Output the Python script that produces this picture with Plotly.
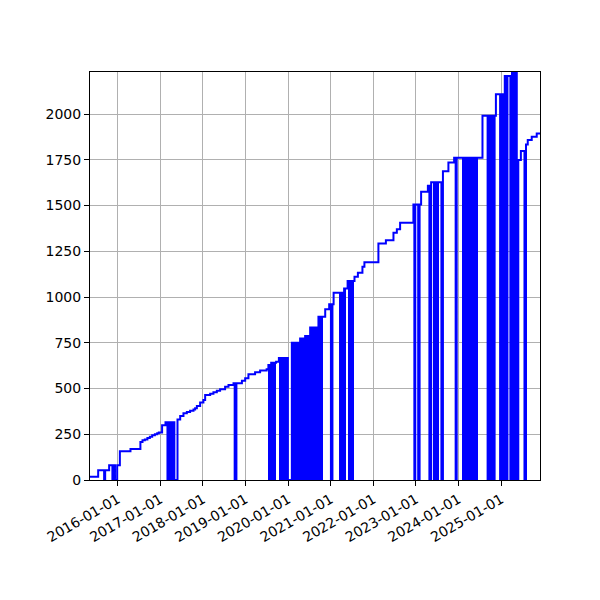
import pandas as pd
import plotly.graph_objects as go

# Step series: date from which the value holds, and the value
step_dates = [
    "2015-05-01", "2015-07-18", "2015-09-07", "2015-09-16", "2015-10-20",
    "2015-11-17", "2015-11-26", "2015-12-09", "2015-12-28", "2016-01-20",
    "2016-04-20", "2016-07-14", "2016-08-01", "2016-08-21", "2016-09-12",
    "2016-10-03", "2016-10-23", "2016-11-15", "2016-12-05", "2016-12-19",
    "2017-01-16", "2017-02-14", "2017-03-03", "2017-03-13", "2017-03-23",
    "2017-03-30", "2017-04-12", "2017-04-21", "2017-05-01", "2017-05-28",
    "2017-06-20", "2017-07-18", "2017-08-16", "2017-09-13", "2017-10-12",
    "2017-10-26", "2017-11-10", "2017-12-08", "2018-01-05", "2018-01-20",
    "2018-03-04", "2018-04-01", "2018-04-30", "2018-05-28", "2018-07-10",
    "2018-08-08", "2018-09-20", "2018-09-30", "2018-10-15", "2018-12-01",
    "2018-12-29", "2019-01-26", "2019-03-24", "2019-05-06", "2019-07-01",
    "2019-07-16", "2019-08-09", "2019-09-20", "2019-10-14", "2019-12-30",
    "2020-02-02", "2020-04-13", "2020-05-26", "2020-07-08", "2020-09-17",
    "2020-11-14", "2020-12-18", "2021-01-02", "2021-01-15", "2021-01-25",
    "2021-04-25", "2021-05-25", "2021-07-23", "2021-08-21", "2021-09-29",
    "2021-10-16", "2022-02-13", "2022-04-18", "2022-06-22", "2022-07-21",
    "2022-08-18", "2022-12-10", "2022-12-18", "2022-12-26", "2023-01-20",
    "2023-02-01", "2023-02-14", "2023-04-13", "2023-04-26", "2023-05-11",
    "2023-08-07", "2023-08-20", "2023-10-06", "2023-11-24", "2023-12-07",
    "2023-12-16", "2024-07-24", "2024-09-06", "2024-09-17", "2024-10-02",
    "2024-10-11", "2024-10-22", "2024-11-05", "2024-11-16", "2024-12-22",
    "2025-01-02", "2025-01-19", "2025-01-31", "2025-02-12", "2025-02-23",
    "2025-03-20", "2025-04-03", "2025-04-19", "2025-05-01", "2025-05-14",
    "2025-05-27", "2025-06-18", "2025-07-19", "2025-08-01", "2025-08-16",
    "2025-09-19", "2025-11-01", "2025-12-31",
]
step_values = [
    18, 53, 0, 53, 80,
    0, 80, 0, 80, 157,
    169, 208, 217, 222, 230,
    237, 244, 250, 255, 260,
    299, 315, 0, 315, 0,
    315, 0, 315, 0, 331,
    350, 365, 372, 379, 385,
    392, 405, 423, 437, 465,
    472, 480, 488, 496, 510,
    519, 529, 0, 529, 543,
    556, 578, 589, 598, 605,
    629, 641, 647, 667, 0,
    750, 774, 787, 834, 892,
    933, 960, 0, 960, 1023,
    1047, 1087, 1111, 1133, 1165,
    1190, 1293, 1311, 1351, 1370,
    1406, 1506, 0, 1506, 0,
    1506, 1576, 1608, 0, 1627,
    0, 1688, 1736, 1762, 0,
    1762, 1991, 0, 1991, 0,
    1991, 0, 1991, 2108, 0,
    2108, 0, 2208, 0, 2208,
    0, 2400, 0, 2400, 0,
    1749, 1798, 0, 1834, 1858,
    1876, 1894, 1894,
]

# Periods of very frequent drops to zero (appear as solid blocks)
block_start = [
    "2019-07-16", "2019-08-09", "2019-10-14", "2020-02-02", "2020-04-13",
    "2020-05-26", "2020-07-08", "2020-09-17", "2021-03-13", "2021-04-25",
    "2021-05-25", "2023-05-31", "2024-02-03",
]
block_end = [
    "2019-08-09", "2019-09-20", "2019-12-30", "2020-04-13", "2020-05-26",
    "2020-07-08", "2020-09-17", "2020-10-30", "2021-04-25", "2021-05-10",
    "2021-07-23", "2023-07-21", "2024-06-19",
]
block_value = [629, 641, 667, 750, 774, 787, 834, 892, 1023, 1047, 1087, 1627, 1762]

x_tick_labels = ["2016-01-01", "2017-01-01", "2018-01-01", "2019-01-01", "2020-01-01",
                 "2021-01-01", "2022-01-01", "2023-01-01", "2024-01-01", "2025-01-01"]
y_ticks = [0, 250, 500, 750, 1000, 1250, 1500, 1750, 2000]

bs = pd.to_datetime(block_start)
be = pd.to_datetime(block_end)
mid = bs + (be - bs) / 2
widths = [(e - s).total_seconds() * 1000 for s, e in zip(bs, be)]

fig = go.Figure()
fig.add_trace(go.Bar(x=mid, y=block_value, width=widths, base=0,
                     marker=dict(color="#0000ff", line=dict(width=0)),
                     showlegend=False, hoverinfo="skip"))
fig.add_trace(go.Scatter(x=pd.to_datetime(step_dates), y=step_values, mode="lines",
                         line=dict(color="#0000ff", width=2, shape="hv"),
                         showlegend=False))

axis_common = dict(
    showgrid=True, gridcolor="#b0b0b0", gridwidth=0.8,
    showline=True, linecolor="black", linewidth=1, mirror=True,
    ticks="outside", ticklen=5, tickcolor="black", tickwidth=1,
    tickfont=dict(family="DejaVu Sans", size=14, color="black"),
    zeroline=False, automargin=False,
)
fig.update_layout(
    width=600, height=600,
    margin=dict(l=82, r=68, t=64, b=128),
    paper_bgcolor="white", plot_bgcolor="white",
    bargap=0,
    xaxis=dict(type="date", range=["2015-05-09", "2025-11-29"],
               tickvals=x_tick_labels, ticktext=x_tick_labels, tickangle=-30,
               **axis_common),
    yaxis=dict(range=[0, 2230], tickvals=y_ticks, ticktext=[str(v) for v in y_ticks],
               **axis_common),
)
fig.write_html("out.html")
